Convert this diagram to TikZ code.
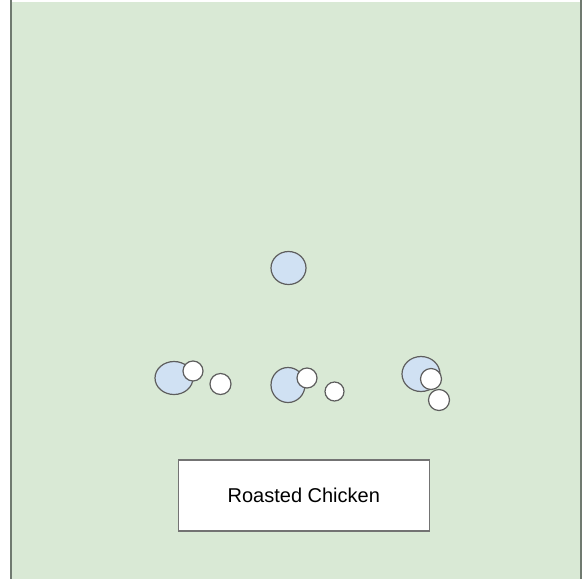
\documentclass[tikz,border=0pt]{standalone}
\usepackage{fontspec}
\setmainfont{Liberation Sans}
\usetikzlibrary{shapes.geometric}
\definecolor{bggreen}{HTML}{D9E9D5}
\definecolor{edgegray}{HTML}{707A70}
\definecolor{blobblue}{HTML}{D0E1F3}
\definecolor{ringgray}{HTML}{5E5E5E}
\begin{document}
\begin{tikzpicture}[x=1pt,y=-1pt,
  bluefood/.style={ellipse, draw=ringgray, line width=1.2pt, fill=blobblue, inner sep=0pt},
  whitefood/.style={circle, draw=ringgray, line width=1.2pt, fill=white, inner sep=0pt},
  labelbox/.style={rectangle, draw=gray!90!black, line width=1.2pt, fill=white, minimum width=251pt, minimum height=71pt, font=\fontsize{20}{24}\selectfont}]
\useasboundingbox (0,0) rectangle (583,579);
\fill[white] (0,0) rectangle (583,579);
\fill[bggreen] (11,2) rectangle (581,579);
\coordinate (tl) at (11,0);
\coordinate (bl) at (11,579);
\coordinate (tr) at (581,0);
\coordinate (br) at (581,579);
\draw[edgegray, line width=1.5pt] (tl) -- (bl);
\draw[edgegray, line width=1.5pt] (tr) -- (br);
% top item
\node[bluefood, minimum width=35pt, minimum height=33pt] (top) at (288.5,268) {};
% left group
\node[bluefood, minimum width=38pt, minimum height=33pt] (lb) at (174,378) {};
\node[whitefood, minimum size=20pt] (lw1) at (193,371) {};
\node[whitefood, minimum size=21pt] (lw2) at (220.5,384) {};
% middle group
\node[bluefood, minimum width=34pt, minimum height=35pt] (mb) at (288,385) {};
\node[whitefood, minimum size=20pt] (mw1) at (307,378) {};
\node[whitefood, minimum size=19pt] (mw2) at (334.5,391.5) {};
% right group
\node[bluefood, minimum width=38pt, minimum height=35pt] (rb) at (421,374) {};
\node[whitefood, minimum size=21pt] (rw1) at (431,379) {};
\node[whitefood, minimum size=21pt] (rw2) at (439,400) {};
% label
\node[labelbox] (chicken) at (303.8,495.5) {Roasted Chicken};
\end{tikzpicture}
\end{document}
